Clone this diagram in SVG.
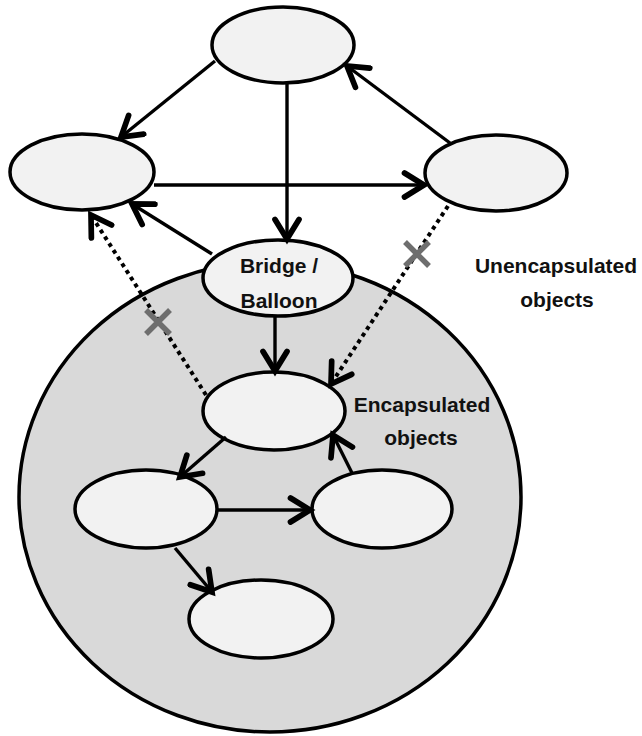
<svg xmlns="http://www.w3.org/2000/svg" width="642" height="736" viewBox="0 0 642 736">
  <style>
    .obj { fill: #f2f2f2; stroke: #000; stroke-width: 3.5; }
    .region { fill: #d9d9d9; stroke: #000; stroke-width: 3.5; }
    .link { stroke: #000; stroke-width: 3.4; fill: none; marker-end: url(#head); }
    .dotted { stroke: #000; stroke-width: 4; fill: none; stroke-dasharray: 4 4; marker-end: url(#head); }
    .cross { stroke: #6e6e6e; stroke-width: 5.5; }
    .label { font-family: "Liberation Sans", Arial, sans-serif; font-weight: bold; font-size: 21px; fill: #111; text-anchor: middle; }
  </style>
  <defs>
    <marker id="head" markerUnits="userSpaceOnUse" markerWidth="30" markerHeight="30" viewBox="-16 -10 20 20" refX="0" refY="0" orient="auto">
      <path d="M-13,-8 L0,0 L-13,8" fill="none" stroke="#000" stroke-width="3.8" stroke-linecap="round" stroke-linejoin="miter"/>
    </marker>
  </defs>

  <!-- encapsulation region -->
  <g id="encapsulation-region">
    <ellipse class="region" cx="270" cy="497" rx="251" ry="235"/>
  </g>

  <!-- object nodes -->
  <g id="node-top"><ellipse class="obj" cx="283" cy="45" rx="71" ry="38"/></g>
  <g id="node-left"><ellipse class="obj" cx="82" cy="172" rx="72" ry="38"/></g>
  <g id="node-right"><ellipse class="obj" cx="496" cy="173" rx="71" ry="38"/></g>
  <g id="node-bridge">
    <ellipse class="obj" cx="278" cy="278" rx="75" ry="38"/>
    <text class="label" x="279" y="273">Bridge /</text>
    <text class="label" x="279" y="308">Balloon</text>
  </g>
  <g id="node-enc-top"><ellipse class="obj" cx="274" cy="411" rx="71" ry="39"/></g>
  <g id="node-enc-left"><ellipse class="obj" cx="146" cy="509" rx="71" ry="39"/></g>
  <g id="node-enc-right"><ellipse class="obj" cx="382" cy="509" rx="70" ry="39"/></g>
  <g id="node-enc-bottom"><ellipse class="obj" cx="261" cy="619" rx="72" ry="39"/></g>

  <!-- connectors -->
  <g id="connectors">
    <line class="link" x1="215" y1="61" x2="121" y2="137"/>
    <line class="link" x1="287" y1="83" x2="287" y2="239"/>
    <line class="link" x1="450" y1="143" x2="347" y2="66"/>
    <line class="link" x1="154" y1="185" x2="424" y2="185"/>
    <line class="link" x1="212" y1="254" x2="132" y2="204"/>
    <line class="link" x1="275" y1="316" x2="275" y2="371"/>
    <line class="link" x1="226" y1="437" x2="180" y2="477"/>
    <line class="link" x1="217" y1="510" x2="310" y2="510"/>
    <line class="link" x1="352" y1="473" x2="333" y2="435"/>
    <line class="link" x1="175" y1="548" x2="212" y2="592"/>
    <line class="dotted" x1="206" y1="395" x2="91" y2="215"/>
    <line class="dotted" x1="448" y1="206" x2="331" y2="384"/>
    <!-- blocked-access marks -->
    <path class="cross" d="M146,310 L170,334 M170,310 L146,334"/>
    <path class="cross" d="M405,242 L429,266 M429,242 L405,266"/>
  </g>

  <!-- region labels -->
  <g id="labels">
    <text class="label" x="556" y="273">Unencapsulated</text>
    <text class="label" x="557" y="307">objects</text>
    <text class="label" x="422" y="412">Encapsulated</text>
    <text class="label" x="421" y="445">objects</text>
  </g>
</svg>
